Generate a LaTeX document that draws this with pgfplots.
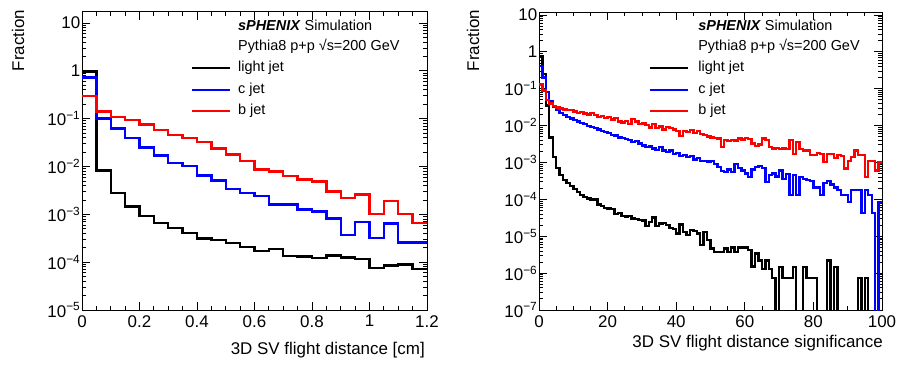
\documentclass[border=0pt]{standalone}
\usepackage{pgfplots}
\pgfplotsset{compat=1.18}
\usepackage{pgfplotstable}
\usepackage{fontspec}
\setmainfont{Liberation Sans}

\pgfplotstableread{
x     black     blue     red
0     0.97      0.72     0.295
0.05  0.0083    0.1      0.14
0.10  0.0028    0.062    0.11
0.15  0.00145   0.040    0.095
0.20  0.00092   0.025    0.076
0.25  0.00066   0.017    0.058
0.30  0.00052   0.0118   0.046
0.35  0.00041   0.0102   0.039
0.40  0.00031   0.0065   0.033
0.45  0.00029   0.0051   0.024
0.50  0.00025   0.0034   0.018
0.55  0.000206  0.0028   0.013
0.60  0.000173  0.0024   0.0087
0.65  0.000187  0.0016   0.0079
0.70  0.000135  0.0016   0.0063
0.75  0.000131  0.00127  0.0053
0.80  0.000122  0.00114  0.0049
0.85  0.000139  0.00082  0.0030
0.90  0.000126  0.00037  0.0022
0.95  0.000115  0.00069  0.0026
1.00  0.000075  0.00032  0.00103
1.05  0.000085  0.00064  0.0019
1.10  0.000089  0.00026  0.00103
1.15  0.000071  0.00026  0.00066
1.20  0.000071  0.00026  0.00066
}\lefttab

\pgfplotstableread{
x black blue red
0 0.78 0.42 0.13
1 0.25 0.2 0.09
2 0.035 0.08 0.05
3 0.0048 0.045 0.04
4 0.0014 0.033 0.034
5 0.0007 0.026 0.031
6 0.00045 0.022 0.029
7 0.00034 0.019 0.027
8 0.00028 0.017 0.026
9 0.00023 0.0155 0.026
10 0.00019 0.014 0.024
11 0.00016 0.0128 0.022
12 0.00013 0.0118 0.023
13 0.000115 0.011 0.021
14 0.000105 0.0098 0.02
15 0.0001 0.009 0.022
16 0.0001 0.0085 0.019
17 7.2e-5 0.0078 0.017
18 6.5e-5 0.0072 0.018
19 5.8e-5 0.0066 0.016
20 5.6e-5 0.0062 0.017
21 5.4e-5 0.0056 0.0145
22 4.0e-5 0.0054 0.016
23 4.3e-5 0.0048 0.013
24 3.6e-5 0.0046 0.012
25 3.4e-5 0.0043 0.0135
26 3.5e-5 0.0040 0.011
27 3.0e-5 0.0036 0.015
28 2.9e-5 0.0038 0.013
29 2.8e-5 0.0033 0.011
30 2.7e-5 0.0029 0.0115
31 1.9e-5 0.0026 0.0105
32 2.4e-5 0.0027 0.0088
33 3.2e-5 0.0024 0.011
34 1.9e-5 0.0022 0.0085
35 2.2e-5 0.0026 0.0095
36 2.3e-5 0.0021 0.0078
37 2.0e-5 0.0019 0.009
38 1.7e-5 0.0021 0.0085
39 1.6e-5 0.0017 0.0078
40 1.2e-5 0.0018 0.0072
41 2.1e-5 0.0015 0.0053
42 1.3e-5 0.0016 0.0072
43 1.07e-5 0.0014 0.0066
44 1.5e-5 0.0015 0.0075
45 1.4e-5 0.0012 0.0064
46 1.2e-5 0.0013 0.0070
47 5.7e-6 0.0011 0.0060
48 1.3e-5 0.0011 0.0055
49 7.8e-6 0.00105 0.0050
50 4.7e-6 0.0011 0.0048
51 3.8e-6 0.0009 0.0046
52 3.8e-6 0.00075 0.0045
53 3.8e-6 0.00058 0.0026
54 4.7e-6 0.00055 0.0040
55 3.8e-6 0.00065 0.0038
56 4.9e-6 0.00055 0.0041
57 3.8e-6 0.0009 0.0039
58 5.0e-6 0.0007 0.0045
59 5.0e-6 0.0006 0.0042
60 5.0e-6 0.0005 0.0046
61 4.2e-6 0.0004 0.0043
62 1.5e-6 0.00065 0.0033
63 3.4e-6 0.00075 0.0028
64 2.2e-6 0.0008 0.0031
65 1.3e-6 0.0007 0.0045
66 2.2e-6 0.0003 0.0041
67 1.3e-6 0.00045 0.0026
68 7.3e-7 0.0005 0.0024
69 1e-9 0.00042 0.0025
70 1.46e-6 0.0006 0.0023
71 7.3e-7 0.00036 0.0024
72 7.3e-7 0.00049 0.0023
73 7.3e-7 0.00013 0.0040
74 1.46e-6 0.00045 0.0017
75 1e-9 0.00013 0.0036
76 1e-9 0.0004 0.0023
77 1.46e-6 0.00035 0.0021
78 7.3e-7 0.00034 0.0021
79 7.3e-7 0.00032 0.0016
80 7.3e-7 0.00021 0.0016
81 1e-9 0.00021 0.0018
82 1e-9 0.00013 0.0017
83 1e-9 0.00028 0.00102
84 2.2e-6 0.00032 0.0017
85 1e-9 0.00025 0.0017
86 1.46e-6 0.00021 0.0013
87 1e-9 0.00018 0.0016
88 1e-9 0.00013 0.0015
89 1e-9 0.00013 0.00068
90 1e-9 0.000085 0.0011
91 1e-9 0.00018 0.0014
92 1e-9 0.00018 0.0021
93 7.3e-7 0.00018 0.0016
94 1e-9 4.2e-5 0.0016
95 7.3e-7 0.00018 0.0004
96 1e-9 0.00013 0.0011
97 1e-9 4.2e-5 0.0011
98 1e-9 1e-9 0.0006
99 1e-9 8.5e-5 0.0010
100 1e-9 8.5e-5 0.0010
}\righttab

\newcommand{\mytl}[1]{\ifnum#1=0 1\else\ifnum#1=1 10\else 10\textsuperscript{−\the\numexpr-#1\relax}\fi\fi}

\begin{document}
\begin{tikzpicture}
\useasboundingbox (0,0) rectangle (899bp,365bp);
% left panel
\begin{axis}[
  scale only axis,
  ymode=log,
  at={(82bp,55bp)}, anchor=south west,
  width=345bp, height=298bp,
  xmin=0, xmax=1.2, ymin=1e-5, ymax=17,
  xtick={0,0.2,...,1.2},
  ytick={1e-5,1e-4,1e-3,1e-2,1e-1,1,10},
  minor x tick num=3,
  axis line style={line width=1bp},
  major tick length=8bp,
  minor tick length=4bp,
  tick align=inside,
  tick style={black, line width=0.8bp},
  tick label style={font=\fontsize{17}{17}\selectfont},
  label style={font=\fontsize{17}{17}\selectfont},
  /pgf/number format/assume math mode=true,
  xticklabel style={inner sep=0pt, yshift=-5bp},
  yticklabel style={inner xsep=1.5bp},
  yticklabel={\pgfmathtruncatemacro{\ee}{round(\tick/ln(10))}\mytl{\ee}},
  xlabel={3D SV flight distance [cm]},
  ylabel={Fraction},
  xlabel style={at={(axis description cs:0.994,-0.135)}, anchor=east, inner sep=0pt},
  ylabel style={at={(axis description cs:-0.1855,1.007)}, anchor=east, inner sep=0pt},
]
\addplot[const plot, line width=2.4bp, black] table[x=x, y=black] {\lefttab};
\addplot[const plot, line width=2.4bp, blue] table[x=x, y=blue] {\lefttab};
\addplot[const plot, line width=2.4bp, red] table[x=x, y=red] {\lefttab};
\node[anchor=west, font=\fontsize{14.5}{14.5}\selectfont, inner sep=0pt] at (axis description cs:0.452,0.956) {\textbf{\textit{sPHENIX}} Simulation};
\node[anchor=west, font=\fontsize{14.5}{14.5}\selectfont, inner sep=0pt] at (axis description cs:0.452,0.886) {Pythia8 p+p √s=200 GeV};
% legend
\draw[line width=2.4bp, black] (axis description cs:0.3188,0.812) -- (axis description cs:0.429,0.812);
\draw[line width=2.4bp, blue] (axis description cs:0.3188,0.738) -- (axis description cs:0.429,0.738);
\draw[line width=2.4bp, red] (axis description cs:0.3188,0.668) -- (axis description cs:0.429,0.668);
\node[anchor=west, font=\fontsize{14.5}{14.5}\selectfont, inner sep=0pt] at (axis description cs:0.452,0.812) {light jet};
\node[anchor=west, font=\fontsize{14.5}{14.5}\selectfont, inner sep=0pt] at (axis description cs:0.452,0.738) {c jet};
\node[anchor=west, font=\fontsize{14.5}{14.5}\selectfont, inner sep=0pt] at (axis description cs:0.452,0.668) {b jet};
\end{axis}
% right panel
\begin{axis}[
  scale only axis,
  ymode=log,
  at={(539bp,55bp)}, anchor=south west,
  width=343bp, height=298bp,
  xmin=0, xmax=100, ymin=1e-7, ymax=12,
  xtick={0,20,...,100},
  ytick={1e-7,1e-6,1e-5,1e-4,1e-3,1e-2,1e-1,1,10},
  minor x tick num=3,
  axis line style={line width=1bp},
  major tick length=8bp,
  minor tick length=4bp,
  tick align=inside,
  tick style={black, line width=0.8bp},
  tick label style={font=\fontsize{17}{17}\selectfont},
  label style={font=\fontsize{17}{17}\selectfont},
  /pgf/number format/assume math mode=true,
  xticklabel style={inner sep=0pt, yshift=-5bp},
  yticklabel style={inner xsep=1.5bp},
  yticklabel={\pgfmathtruncatemacro{\ee}{round(\tick/ln(10))}\mytl{\ee}},
  xlabel={3D SV flight distance significance},
  ylabel={Fraction},
  xlabel style={at={(axis description cs:1.003,-0.112)}, anchor=east, inner sep=0pt},
  ylabel style={at={(axis description cs:-0.192,1.007)}, anchor=east, inner sep=0pt},
]
\addplot[const plot, line width=2.4bp, black] table[x=x, y=black] {\righttab};
\addplot[const plot, line width=2.4bp, blue] table[x=x, y=blue] {\righttab};
\addplot[const plot, line width=2.4bp, red] table[x=x, y=red] {\righttab};
\node[anchor=west, font=\fontsize{14.5}{14.5}\selectfont, inner sep=0pt] at (axis description cs:0.464,0.956) {\textbf{\textit{sPHENIX}} Simulation};
\node[anchor=west, font=\fontsize{14.5}{14.5}\selectfont, inner sep=0pt] at (axis description cs:0.464,0.886) {Pythia8 p+p √s=200 GeV};
% legend
\draw[line width=2.4bp, black] (axis description cs:0.3236,0.812) -- (axis description cs:0.4344,0.812);
\draw[line width=2.4bp, blue] (axis description cs:0.3236,0.738) -- (axis description cs:0.4344,0.738);
\draw[line width=2.4bp, red] (axis description cs:0.3236,0.668) -- (axis description cs:0.4344,0.668);
\node[anchor=west, font=\fontsize{14.5}{14.5}\selectfont, inner sep=0pt] at (axis description cs:0.464,0.812) {light jet};
\node[anchor=west, font=\fontsize{14.5}{14.5}\selectfont, inner sep=0pt] at (axis description cs:0.464,0.738) {c jet};
\node[anchor=west, font=\fontsize{14.5}{14.5}\selectfont, inner sep=0pt] at (axis description cs:0.464,0.668) {b jet};
\end{axis}
\end{tikzpicture}
\end{document}
